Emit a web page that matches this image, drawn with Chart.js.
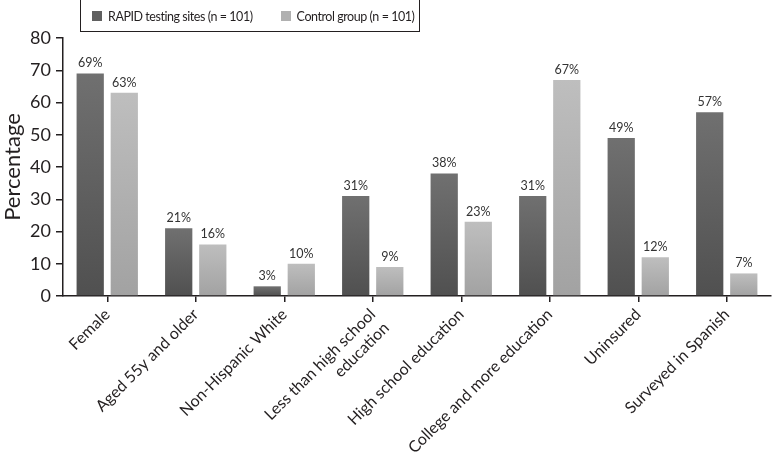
<!DOCTYPE html>
<html>
<head>
<meta charset="utf-8">
<script src="https://cdn.jsdelivr.net/npm/chart.js@4"></script>
<style>
  body { margin: 0; background: #fff; }
  #wrap { position: relative; width: 772px; height: 457px; }
  #legend {
    position: absolute; left: 80px; top: -1px; width: 340px; height: 33px;
    border: 1.5px solid #231f20; box-sizing: border-box;
    font-family: Lato, sans-serif; font-size: 12.5px; letter-spacing: -0.45px; color: #231f20;
    display: flex; align-items: center; padding-left: 11px; padding-top: 1px;
  }
  #legend span.sw { display: inline-block; width: 10px; height: 10px; margin-right: 6px; }
  #legend .item { display: flex; align-items: center; margin-right: 28px; white-space: nowrap; }
</style>
</head>
<body>
<div id="wrap">
  <canvas id="c" width="772" height="457"></canvas>
  <div id="legend"></div>
</div>
<script>
const categories = ['Female', 'Aged 55y and older', 'Non-Hispanic White',
  ['Less than high school', 'education'], 'High school education',
  'College and more education', 'Uninsured', 'Surveyed in Spanish'];
const rapidSites = [69, 21, 3, 31, 38, 31, 49, 57];
const controlGroup = [63, 16, 10, 9, 23, 67, 12, 7];
const yTicks = [0, 10, 20, 30, 40, 50, 60, 70, 80];

const seriesNames = ['RAPID testing sites (n = 101)', 'Control group (n = 101)'];
const swatch = ['#606060', '#b0b0b0'];
const gradStops = [['#707070', '#505050'], ['#bebebe', '#a2a2a2']];
const fontFamily = 'Lato, sans-serif';

function barGradient(idx) {
  return function (ctx) {
    const chart = ctx.chart;
    if (!chart.chartArea || ctx.dataIndex === undefined) return swatch[idx];
    const y = chart.scales.y;
    const v = ctx.dataset.data[ctx.dataIndex];
    const top = y.getPixelForValue(v);
    const bottom = y.getPixelForValue(0);
    const g = chart.ctx.createLinearGradient(0, top, 0, bottom);
    g.addColorStop(0, gradStops[idx][0]);
    g.addColorStop(1, gradStops[idx][1]);
    return g;
  };
}

const valueLabels = {
  id: 'valueLabels',
  afterDatasetsDraw(chart) {
    const ctx = chart.ctx;
    ctx.save();
    ctx.font = '12.5px ' + fontFamily;
    ctx.fillStyle = '#333';
    ctx.textAlign = 'center';
    ctx.textBaseline = 'bottom';
    chart.data.datasets.forEach((ds, i) => {
      chart.getDatasetMeta(i).data.forEach((bar, j) => {
        ctx.fillText(ds.data[j] + '%', bar.x, bar.y - 4);
      });
    });
    ctx.restore();
  }
};

const leg = document.getElementById('legend');
seriesNames.forEach((n, i) => {
  const d = document.createElement('div');
  d.className = 'item';
  d.innerHTML = '<span class="sw" style="background:' + swatch[i] + '"></span>' + n;
  leg.appendChild(d);
});

new Chart(document.getElementById('c'), {
  type: 'bar',
  data: {
    labels: categories,
    datasets: [{
      label: seriesNames[0],
      data: rapidSites,
      backgroundColor: barGradient(0)
    }, {
      label: seriesNames[1],
      data: controlGroup,
      backgroundColor: barGradient(1)
    }]
  },
  options: {
    responsive: false,
    animation: false,
    categoryPercentage: 0.77,
    barPercentage: 0.8,
    layout: { padding: { top: 38, right: 1, left: 0, bottom: 0 } },
    plugins: { legend: { display: false }, tooltip: { enabled: false } },
    scales: {
      x: {
        afterFit(s) { s.height = 161; },
        border: { color: '#231f20', width: 1.5 },
        grid: { offset: false, drawOnChartArea: false, tickLength: 6, color: '#231f20', lineWidth: 1.5 },
        ticks: {
          minRotation: 45, maxRotation: 45, padding: 3,
          color: '#231f20',
          font: { family: fontFamily, size: 16 }
        }
      },
      y: {
        min: 0, max: 80,
        afterFit(s) { s.width = 63; },
        afterBuildTicks(s) { s.ticks = yTicks.map(v => ({ value: v })); },
        border: { color: '#231f20', width: 1.5 },
        grid: { drawOnChartArea: false, tickLength: 7, color: '#231f20', lineWidth: 1.5 },
        title: {
          display: true, text: 'Percentage', color: '#231f20', padding: 0,
          font: { family: fontFamily, size: 22 }
        },
        ticks: {
          padding: 5, color: '#231f20',
          font: { family: fontFamily, size: 18 }
        }
      }
    }
  },
  plugins: [valueLabels]
});
</script>
</body>
</html>
